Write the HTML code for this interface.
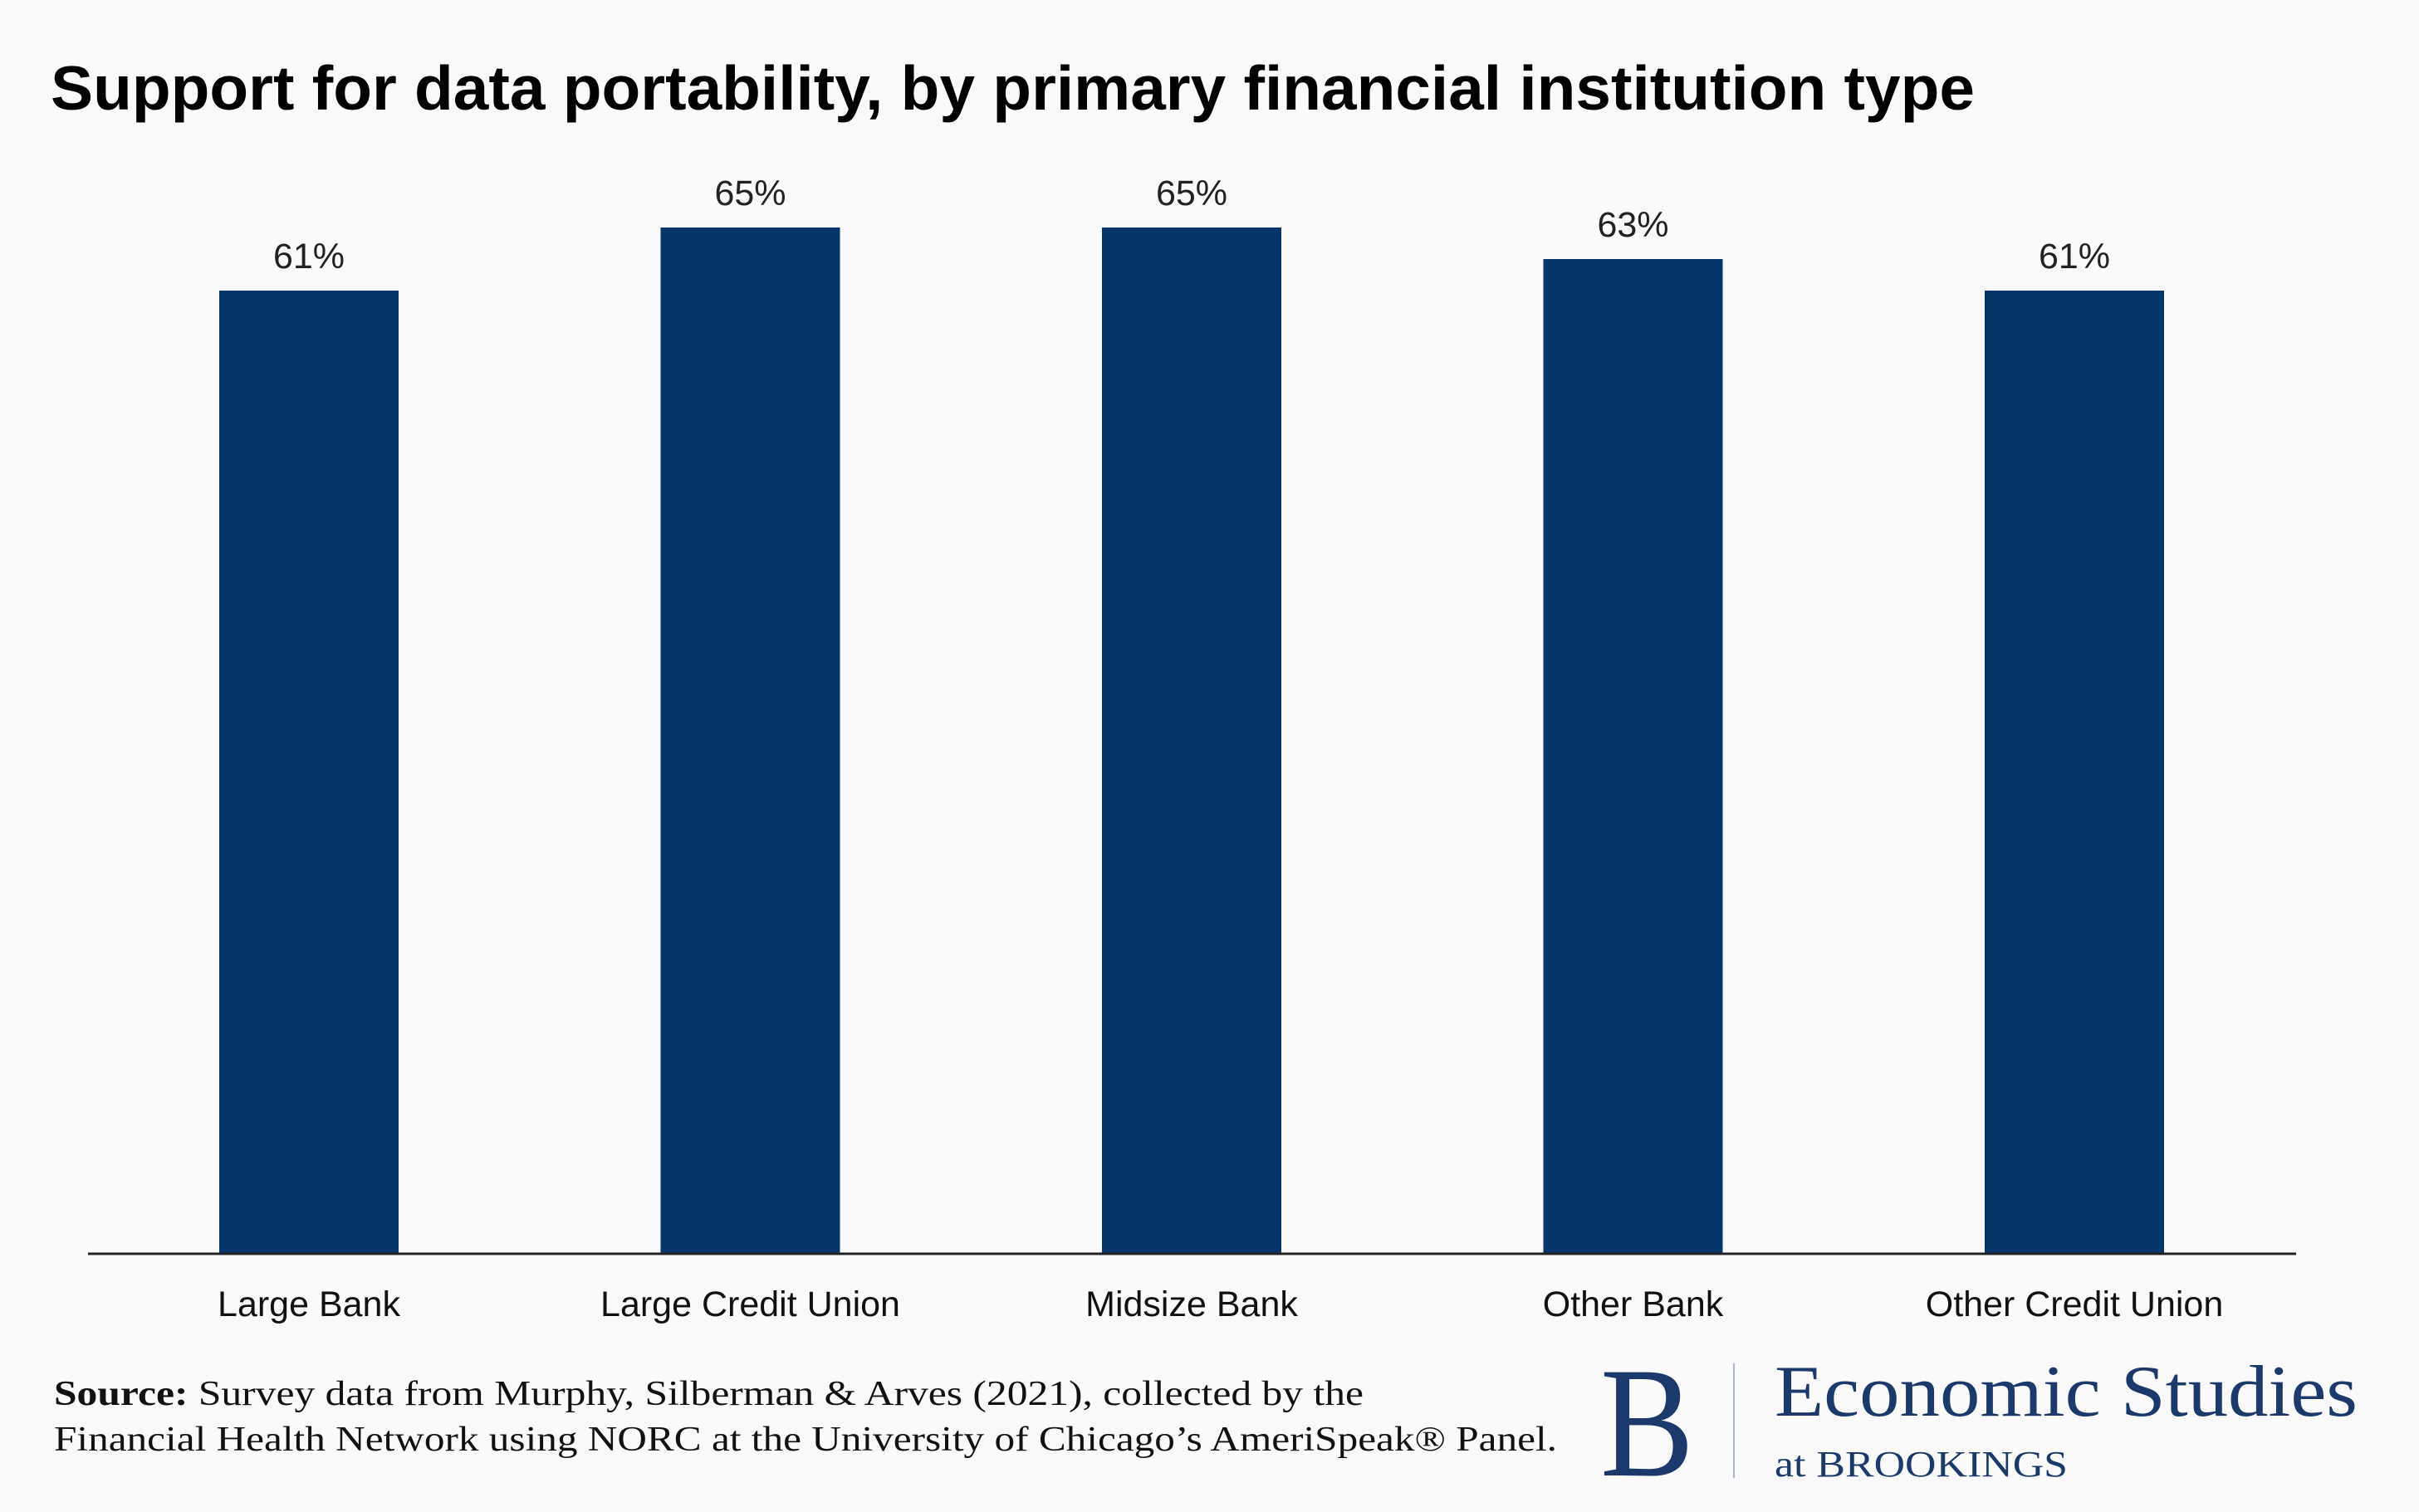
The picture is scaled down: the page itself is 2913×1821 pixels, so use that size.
<!DOCTYPE html>
<html><head><meta charset="utf-8"><style>
html,body{margin:0;padding:0;background:#fafafa;}
svg{display:block;}
</style></head><body>
<svg id="chart" width="2913" height="1821" viewBox="0 0 2913 1821" xmlns="http://www.w3.org/2000/svg">
<rect width="2913" height="1821" fill="#fafafa"/>
<text x="61" y="132" font-family="Liberation Sans, sans-serif" font-weight="bold" font-size="75" fill="#000" textLength="2317" lengthAdjust="spacingAndGlyphs">Support for data portability, by primary financial institution type</text>
<g id="bars"></g>
<line x1="106" y1="1510" x2="2765" y2="1510" stroke="#222" stroke-width="3"/>
<g font-family="Liberation Serif, serif" font-size="42" fill="#111">
<text x="65" y="1692" textLength="1577" lengthAdjust="spacingAndGlyphs"><tspan font-weight="bold">Source:</tspan> Survey data from Murphy, Silberman &amp; Arves (2021), collected by the</text>
<text x="65" y="1747" textLength="1810" lengthAdjust="spacingAndGlyphs">Financial Health Network using NORC at the University of Chicago’s AmeriSpeak® Panel.</text>
</g>
<g font-family="Liberation Serif, serif" fill="#1b3a6b">
<text x="1927" y="1777" font-size="190" textLength="113" lengthAdjust="spacingAndGlyphs">B</text>
<line x1="2088" y1="1642" x2="2088" y2="1780" stroke="#a9b6d3" stroke-width="2"/>
<text x="2137" y="1705" font-size="88" textLength="702" lengthAdjust="spacingAndGlyphs">Economic Studies</text>
<text x="2137" y="1778" font-size="44" textLength="353" lengthAdjust="spacingAndGlyphs">at BROOKINGS</text>
</g>
</svg>
<script>
const categories = ["Large Bank","Large Credit Union","Midsize Bank","Other Bank","Other Credit Union"];
const values = [61,65,65,63,61];
const valueLabels = ["61%","65%","65%","63%","61%"];
const baseY = 1509, pxPerUnit = 19.0, firstX = 372, step = 531.5, barW = 216;
function yScale(v){ return baseY - v*pxPerUnit; }
function xScale(i){ return firstX + i*step; }
const ns = "http://www.w3.org/2000/svg";
const g = document.getElementById('bars');
categories.forEach((c,i)=>{
  const cx = xScale(i), top = yScale(values[i]);
  const r = document.createElementNS(ns,'rect');
  r.setAttribute('x', cx-barW/2); r.setAttribute('y', top);
  r.setAttribute('width', barW); r.setAttribute('height', baseY-top);
  r.setAttribute('fill', '#06356a');
  
  
  g.appendChild(r);
  const t = document.createElementNS(ns,'text');
  t.setAttribute('x', cx); t.setAttribute('y', top-27);
  t.setAttribute('text-anchor','middle');
  t.setAttribute('font-family','Liberation Sans, sans-serif');
  t.setAttribute('font-size','43'); t.setAttribute('fill','#222');
  t.textContent = valueLabels[i];
  
  
  g.appendChild(t);
  const l = document.createElementNS(ns,'text');
  l.setAttribute('x', cx); l.setAttribute('y', 1585);
  l.setAttribute('text-anchor','middle');
  l.setAttribute('font-family','Liberation Sans, sans-serif');
  l.setAttribute('font-size','43'); l.setAttribute('fill','#111');
  l.textContent = c;
  
  
  g.appendChild(l);
});
</script>
</body></html>
